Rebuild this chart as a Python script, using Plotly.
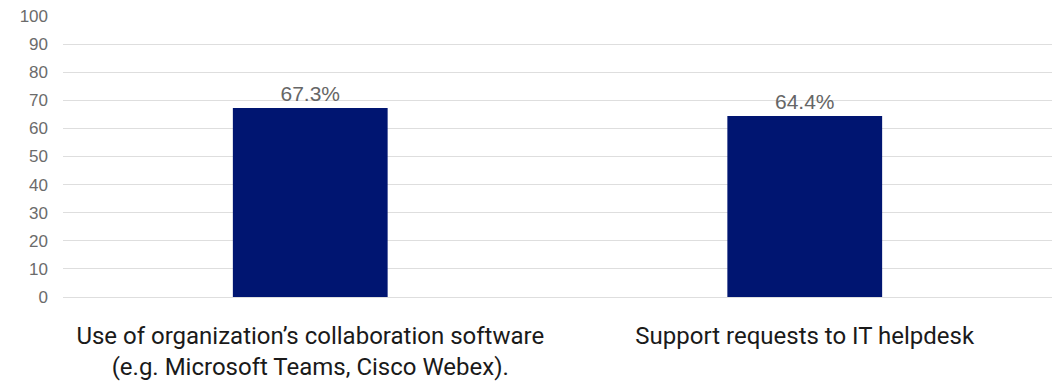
import plotly.graph_objects as go

categories = [
    "Use of organization’s collaboration software<br>(e.g. Microsoft Teams, Cisco Webex).",
    "Support requests to IT helpdesk",
]
values = [67.3, 64.4]
value_labels = ["67.3%", "64.4%"]
tick_vals = [0, 10, 20, 30, 40, 50, 60, 70, 80, 90, 100]

fig = go.Figure(
    go.Bar(
        x=categories,
        y=values,
        text=value_labels,
        textposition="outside",
        textfont=dict(family="Liberation Sans, Arial, sans-serif", size=21, color="#666666"),
        marker=dict(color="#001571", line=dict(width=0)),
        width=0.313,
        cliponaxis=False,
    )
)

fig.update_layout(
    width=1053,
    height=386,
    margin=dict(l=63, r=1, t=16, b=89),
    paper_bgcolor="white",
    plot_bgcolor="white",
    showlegend=False,
    xaxis=dict(
        showgrid=False,
        showline=False,
        ticks="",
        ticklabelstandoff=22,
        tickfont=dict(family="Roboto, sans-serif", size=24, color="#1a1a1a"),
    ),
    yaxis=dict(
        range=[0, 100],
        tickvals=tick_vals,
        showgrid=True,
        gridcolor="#dedede",
        gridwidth=1,
        zeroline=True,
        zerolinecolor="#dedede",
        zerolinewidth=1,
        showline=False,
        ticks="",
        ticklabelstandoff=14,
        tickfont=dict(family="Liberation Sans, Arial, sans-serif", size=17, color="#6b6b6b"),
    ),
)

fig.write_html("out.html")
